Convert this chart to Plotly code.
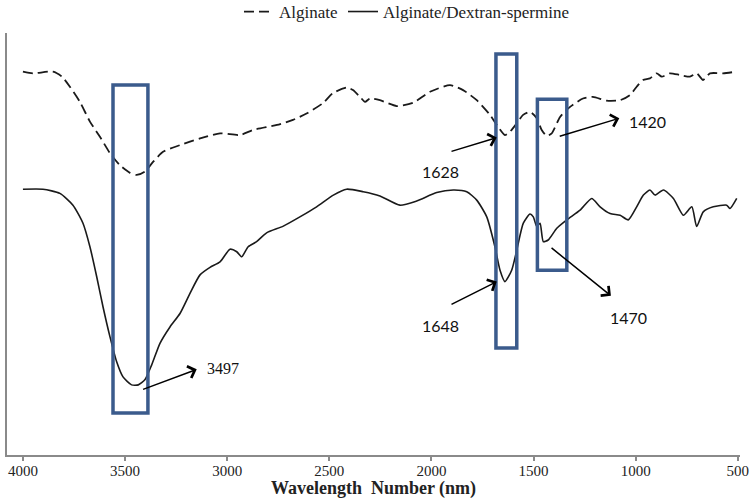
import plotly.graph_objects as go

# ---- Data ----
alg_x = [4000, 3951, 3853, 3809, 3770, 3721, 3672, 3623, 3574, 3525, 3476, 3443, 3403, 3363, 3314,
         3231, 3133, 3035, 2937, 2874, 2756, 2678, 2609, 2531, 2482, 2413, 2384, 2350, 2325, 2301,
         2252, 2170, 2090, 2007, 1909, 1845, 1778, 1713, 1674, 1640, 1615, 1582, 1551, 1517, 1484,
         1460, 1435, 1411, 1370, 1321, 1258, 1209, 1142, 1076, 1028, 995, 964, 930, 897, 872, 832,
         783, 734, 701, 670, 636, 572, 505]
alg_y = [91.3, 90.9, 91.3, 90.1, 87.7, 84.1, 79.4, 75.8, 71.9, 69.0, 67.2, 66.7, 67.5, 69.8, 72.2,
         73.8, 75.4, 76.6, 76.2, 77.4, 78.6, 79.8, 81.4, 83.8, 86.2, 87.5, 86.9, 85.3, 84.1, 84.9,
         84.5, 83.1, 83.9, 86.5, 88.1, 86.9, 84.5, 81.0, 78.2, 76.2, 77.0, 79.0, 81.0, 81.7, 80.2,
         77.4, 76.0, 76.6, 80.5, 82.9, 84.9, 85.3, 84.4, 84.5, 85.7, 87.7, 89.3, 89.7, 90.9, 90.1, 90.9,
         90.5, 90.1, 90.9, 89.3, 90.9, 90.9, 91.3]

ads_x = [4000, 3902, 3819, 3755, 3706, 3672, 3639, 3608, 3574, 3541, 3510, 3468, 3435, 3403, 3370,
         3329, 3280, 3231, 3182, 3133, 3084, 3035, 2986, 2953, 2929, 2897, 2856, 2807, 2725, 2644,
         2562, 2480, 2415, 2334, 2252, 2154, 2072, 1974, 1893, 1827, 1778, 1729, 1689, 1664, 1640,
         1607, 1582, 1550, 1517, 1501, 1484, 1468, 1452, 1428, 1386, 1337, 1272, 1215, 1174, 1125,
         1076, 1036, 995, 962, 930, 905, 864, 815, 766, 725, 701, 669, 620, 554, 538, 505]
ads_y = [63.3, 63.3, 62.3, 59.5, 55.2, 49.6, 42.5, 35.3, 28.2, 22.2, 18.6, 16.7, 16.7, 17.9, 21.4,
         26.6, 30.5, 33.7, 38.5, 42.9, 44.7, 46.0, 49.0, 48.4, 47.2, 49.6, 50.8, 52.9, 54.5, 56.7,
         59.1, 61.9, 63.3, 62.7, 61.7, 59.5, 60.5, 62.5, 63.1, 62.7, 60.7, 56.7, 49.6, 44.0, 41.3,
         44.0, 48.8, 55.2, 57.4, 56.7, 54.4, 55.2, 50.8, 51.2, 54.0, 56.0, 58.3, 61.1, 59.1, 57.5,
         57.1, 56.0, 59.1, 61.9, 63.1, 61.9, 63.1, 61.1, 57.1, 59.1, 54.4, 57.9, 59.1, 59.5, 58.7, 61.1]

tick_vals = [4000, 3500, 3000, 2500, 2000, 1500, 1000, 500]
series_names = ["Alginate", "Alginate/Dextran-spermine"]

# highlighted bands: (x0, x1, y0, y1)
bands = [(3559, 3388, 10.0, 88.1), (1684, 1582, 25.5, 95.5), (1481, 1337, 44.0, 84.7)]
# peak labels: text, label x, label y, arrow head (x, y), arrow tail (x, y), font
peaks = [
    ("3497", 3109, 20.5, (3149, 20.4), (3419, 15.5), "Liberation Serif"),
    ("1628", 2056, 67.5, (1680, 75.6), (1909, 72.2), "Lato"),
    ("1420", 1042, 79.4, (1080, 80.2), (1379, 75.8), "Lato"),
    ("1648", 2056, 30.8, (1680, 41.3), (1909, 35.7), "Lato"),
    ("1470", 1135, 32.8, (1121, 37.9), (1419, 49.6), "Lato"),
]

fig = go.Figure()
fig.add_trace(go.Scatter(x=alg_x, y=alg_y, mode="lines", name=series_names[0], legend="legend",
                         line=dict(color="#1a1a1a", width=1.8, dash="10px,5px",
                                   shape="spline", smoothing=0.6)))
fig.add_trace(go.Scatter(x=ads_x, y=ads_y, mode="lines", name=series_names[1], legend="legend2",
                         line=dict(color="#1a1a1a", width=1.6, shape="spline", smoothing=0.6)))

for (x0, x1, y0, y1) in bands:
    fig.add_shape(type="rect", x0=x0, x1=x1, y0=y0, y1=y1, xref="x", yref="y",
                  line=dict(color="#3B5B8C", width=3.5), fillcolor="rgba(0,0,0,0)")

for (txt, lx, ly, head, tail, fam) in peaks:
    fig.add_annotation(x=head[0], y=head[1], ax=tail[0], ay=tail[1], axref="x", ayref="y",
                       xref="x", yref="y", text="", showarrow=True, arrowhead=4,
                       arrowsize=1.6, arrowwidth=1.5, arrowcolor="#000000")
    fig.add_annotation(x=lx, y=ly, xref="x", yref="y", text=txt, showarrow=False,
                       xanchor="left", font=dict(family=fam, size=16, color="#111111"))

legend_style = dict(orientation="h", xanchor="left", y=0.976, yanchor="middle", yref="container",
                    font=dict(family="Liberation Serif", size=17, color="#222222"),
                    bgcolor="rgba(0,0,0,0)")
fig.update_layout(
    width=751, height=499,
    margin=dict(l=7, r=11, t=33, b=44),
    paper_bgcolor="white", plot_bgcolor="white",
    showlegend=True,
    legend=dict(x=0.3165, **legend_style),
    legend2=dict(x=0.4584, **legend_style),
)
fig.update_xaxes(range=[4078, 489], tickvals=tick_vals, ticktext=[str(v) for v in tick_vals],
                 showgrid=False, zeroline=False, showline=True, linecolor="#8a8a8a", linewidth=2,
                 ticks="outside", ticklen=4, tickcolor="#8a8a8a", tickwidth=1.5,
                 ticklabelstandoff=-3,
                 tickfont=dict(family="Liberation Serif", size=15, color="#222222"),
                 title=dict(text="<b>Wavelength  Number (nm)</b>", standoff=7,
                            font=dict(family="Liberation Serif", size=18, color="#222222")),
                 automargin=False)
fig.update_yaxes(range=[0, 100.5], showgrid=False, zeroline=False, showticklabels=False,
                 showline=True, linecolor="#8a8a8a", linewidth=2, ticks="", automargin=False)

fig.write_html("out.html", config={"displayModeBar": False},
               post_script="document.body.style.margin='0';")
